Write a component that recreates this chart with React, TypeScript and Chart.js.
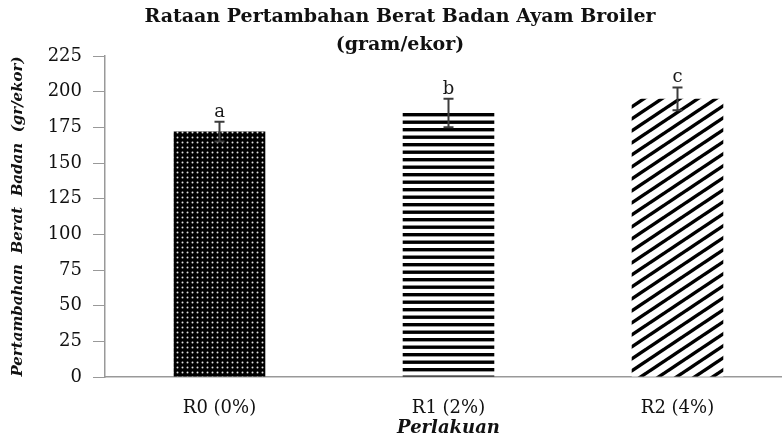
import React, { useEffect, useRef } from "react";
import { Chart, registerables } from "chart.js";

Chart.register(...registerables);

const categories = ["R0 (0%)", "R1 (2%)", "R2 (4%)"];
const meanValues = [172, 185, 195];
const errorValues = [7, 10, 8];
const groupLetters = ["a", "b", "c"];
const titleLines = ["Rataan Pertambahan Berat Badan Ayam Broiler", "(gram/ekor)"];
const yTitle = "Pertambahan  Berat  Badan  (gr/ekor)";
const xTitle = "Perlakuan";

const SERIF = "'DejaVu Serif', 'Liberation Serif', serif";

function makeDots(): CanvasPattern | string {
  const c = document.createElement("canvas");
  c.width = 5;
  c.height = 5;
  const g = c.getContext("2d");
  if (!g) return "#000";
  g.fillStyle = "#000";
  g.fillRect(0, 0, 5, 5);
  g.fillStyle = "#e0e0e0";
  g.beginPath();
  g.arc(2.5, 2.5, 1.0, 0, Math.PI * 2);
  g.fill();
  return g.createPattern(c, "repeat") || "#000";
}

function makeHorizontal(): CanvasPattern | string {
  const c = document.createElement("canvas");
  c.width = 8;
  c.height = 15;
  const g = c.getContext("2d");
  if (!g) return "#000";
  g.fillStyle = "#fff";
  g.fillRect(0, 0, 8, 15);
  g.fillStyle = "#000";
  g.fillRect(0, 0.5, 8, 3.4);
  g.fillRect(0, 8, 8, 3.4);
  return g.createPattern(c, "repeat") || "#000";
}

function makeDiagonal(): CanvasPattern | string {
  const w = 18;
  const h = 12;
  const c = document.createElement("canvas");
  c.width = w;
  c.height = h;
  const g = c.getContext("2d");
  if (!g) return "#000";
  g.fillStyle = "#fff";
  g.fillRect(0, 0, w, h);
  g.strokeStyle = "#000";
  g.lineWidth = 3.4;
  for (const dx of [-w, 0, w]) {
    g.beginPath();
    g.moveTo(dx - 2, h + (2 * h) / w);
    g.lineTo(dx + w + 2, -(2 * h) / w);
    g.stroke();
  }
  return g.createPattern(c, "repeat") || "#000";
}

const overlayPlugin = {
  id: "overlay",
  afterDatasetsDraw(chart: any) {
    const ctx = chart.ctx;
    const meta = chart.getDatasetMeta(0);
    const ys = chart.scales.y;
    ctx.save();
    meta.data.forEach((bar: any, i: number) => {
      const x = bar.x;
      const top = ys.getPixelForValue(meanValues[i] + errorValues[i]);
      const bot = ys.getPixelForValue(meanValues[i] - errorValues[i]);
      ctx.strokeStyle = "#3c3c3c";
      ctx.lineWidth = 2;
      ctx.beginPath();
      ctx.moveTo(x, top);
      ctx.lineTo(x, bot);
      ctx.moveTo(x - 5, top);
      ctx.lineTo(x + 5, top);
      ctx.moveTo(x - 5, bot);
      ctx.lineTo(x + 5, bot);
      ctx.stroke();
      ctx.fillStyle = "#1a1a1a";
      ctx.font = `18px ${SERIF}`;
      ctx.textAlign = "center";
      ctx.textBaseline = "alphabetic";
      ctx.fillText(groupLetters[i], x, top - 5);
    });
    ctx.fillStyle = "#111";
    ctx.font = `bold 19px ${SERIF}`;
    ctx.textAlign = "center";
    ctx.textBaseline = "middle";
    ctx.fillText(titleLines[0], chart.width / 2, 17);
    ctx.fillText(titleLines[1], chart.width / 2, 45);
    ctx.restore();
  },
};

export default function App() {
  const ref = useRef<HTMLCanvasElement | null>(null);

  useEffect(() => {
    if (!ref.current) return;
    const patterns = [makeDots(), makeHorizontal(), makeDiagonal()];
    const chart = new Chart(ref.current, {
      type: "bar",
      data: {
        labels: categories,
        datasets: [
          {
            data: meanValues,
            backgroundColor: patterns as any,
            borderWidth: 0,
            barPercentage: 0.4,
            categoryPercentage: 1.0,
          },
        ],
      },
      options: {
        responsive: false,
        animation: false,
        devicePixelRatio: 1,
        layout: { padding: { top: 56, right: 8, bottom: 0, left: 0 } },
        plugins: {
          legend: { display: false },
          title: { display: false },
          tooltip: { enabled: false },
        },
        scales: {
          x: {
            grid: { display: true, drawOnChartArea: false, drawTicks: false, color: "#999" },
            border: { color: "#999", width: 1.5 },
            ticks: { padding: 21, color: "#111", font: { family: SERIF, size: 18 } },
            title: {
              display: true,
              text: xTitle,
              color: "#111",
              font: { family: SERIF, size: 18, style: "italic", weight: "bold" },
              padding: { top: 0, bottom: 1 },
            },
            afterFit: (s: any) => {
              s.height = 63;
            },
          },
          y: {
            min: 0,
            max: 225,
            ticks: { stepSize: 25, padding: 11, color: "#111", font: { family: SERIF, size: 18 } },
            grid: { drawOnChartArea: false, drawTicks: true, tickLength: 12, color: "#999" },
            border: { color: "#999", width: 1.5 },
            title: {
              display: true,
              text: yTitle,
              color: "#111",
              font: { family: SERIF, size: 15, style: "italic", weight: "bold" },
              padding: { top: 9, bottom: 0 },
            },
            afterFit: (s: any) => {
              s.width = 105;
            },
          },
        },
      },
      plugins: [overlayPlugin],
    });
    return () => chart.destroy();
  }, []);

  return (
    <div style={{ position: "absolute", left: 0, top: 0, width: 782, height: 440, overflow: "hidden", background: "#fff" }}>
      <canvas ref={ref} width={800} height={440} style={{ display: "block" }} />
    </div>
  );
}
